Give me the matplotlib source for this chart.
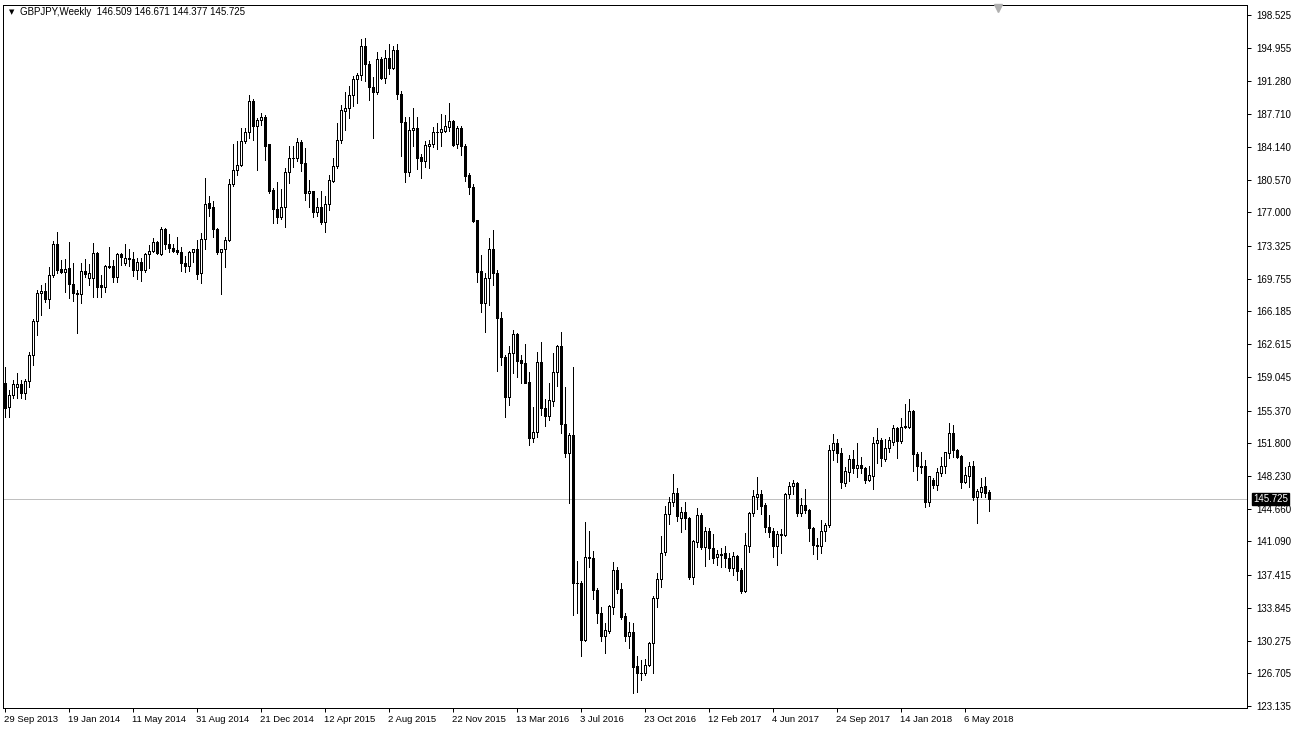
import matplotlib

matplotlib.use("Agg")
import numpy as np
import pandas as pd
from matplotlib import pyplot as plt
from matplotlib import transforms

plt.rcParams["font.family"] = ["Liberation Sans", "DejaVu Sans"]

symbol = "GBPJPY,Weekly"
start_week = "2013-09-29"

# weekly OHLC
opens = [
    158.34, 155.72, 157.07, 157.95, 158.27, 157.25, 158.56, 161.43, 165.18, 168.16,
    168.41, 167.58, 170.16, 173.50, 170.78, 170.52, 170.89, 169.14, 168.23, 168.09,
    170.60, 169.80, 169.80, 172.60, 169.07, 168.89, 171.03, 171.14, 169.98, 172.41,
    171.50, 171.97, 171.86, 170.70, 171.54, 170.70, 172.44, 172.81, 173.72, 172.44,
    175.17, 173.50, 173.06, 172.88, 172.70, 171.43, 171.17, 172.63, 172.95, 170.34,
    174.04, 177.97, 177.54, 175.14, 172.70, 172.95, 173.97, 180.05, 181.61, 182.12,
    184.78, 185.72, 189.14, 186.45, 187.07, 187.36, 184.41, 179.43, 177.36, 176.45,
    177.61, 181.36, 182.89, 182.89, 184.63, 182.34, 179.07, 179.32, 177.07, 177.54,
    175.98, 177.90, 180.45, 182.05, 184.89, 188.09, 188.34, 189.80, 191.51, 191.98,
    195.14, 193.14, 190.63, 190.16, 193.69, 191.69, 193.80, 192.71, 194.71, 189.87,
    186.82, 181.43, 185.98, 186.16, 183.07, 182.63, 184.27, 184.45, 185.72, 185.72,
    185.91, 186.34, 186.96, 184.42, 186.23, 184.23, 181.07, 179.72, 176.16, 170.59,
    167.14, 169.79, 172.96, 170.34, 165.43, 161.17, 156.88, 161.61, 163.72, 160.88,
    160.52, 158.45, 152.34, 152.99, 160.63, 155.61, 154.81, 156.45, 159.54, 162.45,
    153.86, 150.70, 152.70, 136.52, 136.59, 130.33, 139.43, 139.32, 135.79, 133.31,
    130.80, 131.35, 133.97, 137.97, 135.86, 132.95, 130.80, 131.17, 127.49, 126.69,
    126.69, 127.60, 129.97, 134.88, 136.99, 139.90, 144.04, 145.35, 146.33, 143.61,
    144.26, 143.61, 137.24, 141.06, 143.97, 140.44, 142.22, 140.33, 139.35, 139.68,
    139.79, 139.32, 138.16, 139.50, 137.97, 135.72, 140.63, 144.16, 145.97, 146.27,
    145.07, 142.70, 142.23, 140.59, 141.79, 141.79, 146.27, 147.14, 147.50, 144.23,
    145.07, 144.52, 142.52, 140.70, 140.59, 142.23, 142.88, 151.07, 151.79, 150.78,
    147.50, 148.70, 150.05, 149.14, 149.43, 149.14, 147.79, 148.23, 151.79, 152.15,
    150.08, 151.25, 151.97, 153.50, 152.08, 153.68, 153.61, 155.32, 150.59, 149.32,
    149.32, 145.43, 147.79, 147.24, 148.52, 149.32, 150.77, 152.88, 151.06, 150.41,
    147.61, 148.23, 149.32, 145.90, 146.52, 147.14, 146.509,
]
highs = [
    160.16, 157.61, 158.70, 159.50, 158.70, 158.77, 161.79, 165.32, 168.52, 169.07,
    169.25, 171.07, 173.91, 174.81, 171.80, 171.87, 173.72, 171.43, 168.52, 171.43,
    171.87, 171.32, 173.61, 172.70, 170.16, 171.21, 173.25, 171.80, 172.52, 172.52,
    173.54, 172.95, 172.70, 171.97, 171.97, 172.59, 173.39, 174.15, 173.86, 175.43,
    175.32, 174.63, 173.54, 174.26, 173.17, 172.23, 172.77, 172.95, 173.97, 174.70,
    180.70, 178.77, 178.26, 175.25, 172.95, 174.26, 180.63, 184.41, 184.77, 186.16,
    186.16, 189.80, 189.33, 187.25, 187.80, 187.62, 184.41, 179.61, 180.34, 179.50,
    181.87, 184.23, 184.23, 185.07, 184.89, 183.98, 180.52, 179.32, 178.52, 179.32,
    178.81, 181.07, 182.89, 186.71, 188.71, 190.09, 190.78, 191.87, 192.23, 195.87,
    195.98, 193.54, 191.80, 194.45, 193.98, 194.71, 195.36, 195.14, 195.36, 190.23,
    187.36, 187.36, 188.34, 187.36, 183.36, 184.82, 184.89, 186.27, 186.78, 187.72,
    187.62, 188.96, 187.07, 186.42, 186.42, 184.45, 181.32, 180.09, 176.16, 172.34,
    170.34, 174.16, 175.07, 170.70, 166.16, 161.43, 162.41, 164.16, 163.87, 161.43,
    162.63, 159.61, 155.79, 161.72, 162.81, 156.59, 158.41, 161.61, 162.52, 163.94,
    157.97, 152.95, 160.16, 138.99, 136.81, 143.17, 142.26, 140.08, 135.97, 133.97,
    132.15, 134.15, 138.80, 138.26, 136.59, 133.24, 132.33, 132.15, 128.58, 128.15,
    128.22, 130.15, 135.13, 137.60, 141.68, 144.95, 145.90, 148.44, 146.88, 144.88,
    145.35, 143.71, 141.24, 144.70, 144.15, 142.70, 142.59, 141.90, 140.15, 140.33,
    140.59, 139.79, 139.97, 139.61, 138.16, 141.97, 144.34, 146.70, 148.08, 146.70,
    145.32, 143.97, 142.52, 142.27, 142.41, 146.41, 147.61, 147.79, 147.61, 145.87,
    146.78, 144.59, 142.70, 141.43, 143.43, 143.07, 151.61, 152.81, 152.23, 151.25,
    149.17, 150.52, 151.06, 151.86, 150.34, 149.24, 149.32, 152.45, 153.43, 152.34,
    152.23, 152.52, 153.79, 153.61, 154.52, 156.08, 156.59, 155.43, 150.88, 150.88,
    149.97, 148.23, 147.97, 149.06, 150.34, 150.88, 153.97, 153.79, 151.13, 150.52,
    149.24, 149.79, 149.90, 146.77, 147.97, 148.08, 146.671,
]
lows = [
    154.70, 154.70, 156.70, 156.70, 156.70, 156.59, 157.97, 160.34, 163.61, 165.79,
    167.25, 166.52, 169.90, 170.34, 170.34, 168.34, 167.69, 167.32, 163.87, 167.07,
    169.98, 169.07, 167.79, 167.79, 167.72, 168.34, 170.89, 169.43, 169.43, 171.25,
    171.24, 171.17, 170.04, 169.72, 169.54, 170.52, 170.95, 172.63, 172.41, 172.34,
    172.95, 172.66, 172.63, 172.41, 170.63, 170.44, 170.63, 171.61, 169.68, 169.32,
    172.95, 176.63, 174.34, 172.41, 168.04, 171.06, 173.86, 179.86, 181.06, 182.05,
    184.52, 185.07, 184.89, 181.61, 186.52, 182.71, 179.14, 175.80, 175.87, 176.23,
    175.43, 180.16, 181.91, 182.60, 181.54, 178.34, 177.61, 176.45, 176.60, 175.72,
    174.89, 177.25, 180.34, 181.80, 184.60, 185.98, 187.25, 188.60, 188.96, 191.43,
    191.36, 189.25, 185.07, 189.87, 191.54, 191.07, 192.05, 192.60, 189.36, 183.18,
    180.34, 181.00, 184.27, 181.69, 180.71, 181.98, 181.87, 184.16, 183.87, 184.27,
    185.80, 185.91, 184.23, 183.98, 183.25, 180.41, 178.96, 175.90, 169.36, 166.16,
    163.97, 166.88, 169.07, 159.72, 160.34, 154.63, 155.97, 159.43, 158.99, 158.41,
    158.41, 151.61, 151.97, 152.45, 154.88, 153.68, 154.34, 155.86, 158.05, 152.88,
    150.34, 145.32, 133.06, 133.24, 128.62, 130.26, 138.26, 134.77, 132.15, 130.26,
    128.95, 131.06, 133.17, 135.49, 132.59, 130.26, 129.49, 124.51, 124.69, 125.97,
    126.51, 127.49, 126.69, 133.97, 136.08, 139.60, 142.95, 144.95, 143.35, 142.08,
    142.41, 136.99, 136.44, 140.44, 140.26, 138.40, 139.13, 138.70, 138.51, 138.33,
    138.34, 137.90, 137.43, 136.88, 135.50, 135.61, 139.97, 143.87, 144.59, 144.08,
    142.08, 141.61, 139.43, 138.52, 139.79, 141.72, 145.87, 146.27, 143.90, 143.90,
    144.23, 141.17, 139.72, 139.17, 139.79, 141.17, 142.63, 149.98, 149.72, 146.88,
    147.14, 147.72, 148.59, 148.08, 148.52, 147.43, 147.72, 146.81, 149.61, 149.32,
    149.90, 150.88, 151.61, 150.15, 151.86, 153.43, 153.43, 148.77, 147.79, 148.52,
    144.88, 144.95, 146.95, 146.70, 148.23, 148.52, 150.15, 150.34, 150.15, 146.88,
    147.43, 147.06, 145.61, 143.13, 145.90, 145.97, 144.377,
]
closes = [
    155.61, 157.07, 158.27, 158.25, 157.25, 158.56, 161.43, 165.18, 168.16, 168.41,
    167.58, 170.16, 173.50, 170.70, 170.52, 170.78, 169.14, 168.16, 168.09, 170.60,
    170.23, 170.34, 172.52, 168.89, 168.89, 171.14, 171.14, 169.98, 172.41, 172.09,
    171.97, 171.86, 170.70, 171.54, 170.70, 172.44, 172.81, 173.72, 172.52, 175.17,
    173.50, 173.06, 172.81, 172.70, 171.43, 171.17, 172.63, 172.95, 170.23, 174.04,
    177.86, 177.50, 175.14, 172.70, 172.95, 173.97, 180.05, 181.61, 182.12, 184.77,
    185.72, 189.14, 186.45, 187.07, 187.36, 184.27, 179.32, 177.32, 176.45, 177.61,
    181.36, 182.89, 182.96, 184.63, 182.34, 179.14, 179.32, 177.07, 177.54, 175.98,
    177.90, 180.52, 182.05, 184.89, 188.16, 188.34, 189.80, 191.51, 191.98, 195.14,
    193.14, 190.63, 190.16, 193.69, 191.69, 193.80, 192.71, 194.71, 189.87, 186.82,
    181.43, 185.98, 186.20, 182.96, 182.63, 184.34, 184.45, 185.72, 185.76, 186.05,
    186.38, 186.96, 184.34, 186.23, 184.23, 181.00, 179.72, 176.05, 170.52, 167.14,
    169.79, 172.96, 170.34, 165.43, 161.17, 156.88, 161.61, 163.72, 160.81, 160.52,
    158.41, 152.34, 153.06, 160.63, 155.61, 154.81, 156.52, 159.54, 162.45, 153.86,
    150.70, 152.70, 136.52, 136.59, 130.33, 139.43, 139.32, 135.79, 133.31, 130.81,
    131.42, 134.08, 137.97, 135.86, 132.88, 130.80, 131.17, 127.42, 126.69, 126.77,
    127.60, 130.04, 134.95, 136.99, 139.79, 144.08, 145.35, 146.33, 143.90, 144.26,
    143.61, 137.24, 141.13, 143.97, 140.44, 142.26, 140.33, 139.24, 139.68, 139.60,
    139.25, 138.16, 139.50, 137.90, 135.72, 140.70, 144.16, 146.05, 146.27, 144.96,
    142.63, 142.16, 140.59, 141.90, 141.90, 146.27, 147.14, 147.50, 144.23, 145.07,
    144.52, 142.52, 140.70, 140.59, 142.23, 142.88, 151.07, 151.79, 150.78, 147.54,
    148.77, 150.05, 149.06, 149.43, 149.14, 147.79, 148.34, 151.79, 152.15, 150.15,
    151.25, 152.15, 153.43, 152.08, 153.54, 153.54, 155.32, 150.59, 149.32, 149.24,
    145.43, 148.23, 147.24, 148.70, 149.32, 150.88, 152.88, 151.06, 150.34, 147.61,
    148.34, 149.32, 145.90, 146.59, 147.06, 146.41, 145.725,
]

price_ticks = [
    198.525, 194.955, 191.280, 187.710, 184.140, 180.570, 177.000, 173.325,
    169.755, 166.185, 162.615, 159.045, 155.370, 151.800, 148.230, 144.660,
    141.090, 137.415, 133.845, 130.275, 126.705, 123.135,
]
date_step = 16

PX = 0.72  # one pixel in points at 100 dpi


def main() -> None:
    o = np.array(opens)
    h = np.array(highs)
    lo = np.array(lows)
    c = np.array(closes)
    assert o.size == h.size == lo.size == c.size, (o.size, h.size, lo.size, c.size)
    n = o.size
    xs = np.arange(n)
    weeks = pd.date_range(start_week, periods=n, freq="7D")

    fig = plt.figure(figsize=(12.94, 7.33), dpi=100)
    ax = fig.add_axes([3 / 1294, 25 / 733, 1244 / 1294, 703 / 733])

    ax.vlines(xs, lo, h, color="black", linewidth=PX, antialiased=False, zorder=2)

    up = c >= o
    bottom = np.minimum(o, c)
    height = np.maximum(np.abs(c - o), 0.02)
    ax.bar(
        xs[up], height[up], bottom=bottom[up], width=0.5,
        facecolor="white", edgecolor="black", linewidth=PX, antialiased=False, zorder=3,
    )
    ax.bar(
        xs[~up], height[~up], bottom=bottom[~up], width=0.5,
        facecolor="black", edgecolor="black", linewidth=PX, antialiased=False, zorder=3,
    )

    last = closes[-1]
    ax.axhline(last, color="#c0c0c0", linewidth=PX, zorder=1)

    ax.set_xlim(-0.625, 310.4)
    ax.set_ylim(122.92, 199.62)

    ax.yaxis.tick_right()
    ax.set_yticks(price_ticks)
    ax.set_yticklabels([f"{p:.3f}" for p in price_ticks])
    ax.tick_params(axis="y", direction="out", length=3, width=PX, pad=3.5, labelsize=7)

    tick_pos = xs[::date_step]
    ax.set_xticks(tick_pos)
    ax.set_xticklabels([f"{d.day} {d:%b %Y}" for d in weeks[::date_step]], ha="left")
    ax.tick_params(axis="x", direction="out", length=3, width=PX, pad=2, labelsize=6.8)
    offset = transforms.ScaledTranslation(-1 / 100, 0, fig.dpi_scale_trans)
    for label in ax.get_xticklabels():
        label.set_transform(label.get_transform() + offset)

    for spine in ax.spines.values():
        spine.set_linewidth(PX)
        spine.set_color("black")

    bt = transforms.blended_transform_factory(ax.transAxes, ax.transData)
    ax.text(
        1.0 + 6 / 1244, last, f"{last:.3f}", transform=bt, ha="left", va="center",
        color="white", fontsize=7,
        bbox=dict(boxstyle="square,pad=0.15", facecolor="black", edgecolor="black"),
        zorder=5, clip_on=False,
    )

    ax.plot(
        [(998 - 3) / 1244], [1 - 3 / 703], marker="v", markersize=6,
        color="#b0b0b0", transform=ax.transAxes, clip_on=False, zorder=5,
    )

    fig.text(9 / 1294, 1 - 12 / 733, "▼", fontsize=5, va="center", ha="left",
             family=["DejaVu Sans"])
    header = f"{symbol}  {opens[-1]:.3f} {highs[-1]:.3f} {lows[-1]:.3f} {closes[-1]:.3f}"
    fig.text(20 / 1294, 1 - 12 / 733, header, fontsize=7, va="center", ha="left")

    fig.savefig("out.png", dpi=100, facecolor="white")


if __name__ == "__main__":
    main()
